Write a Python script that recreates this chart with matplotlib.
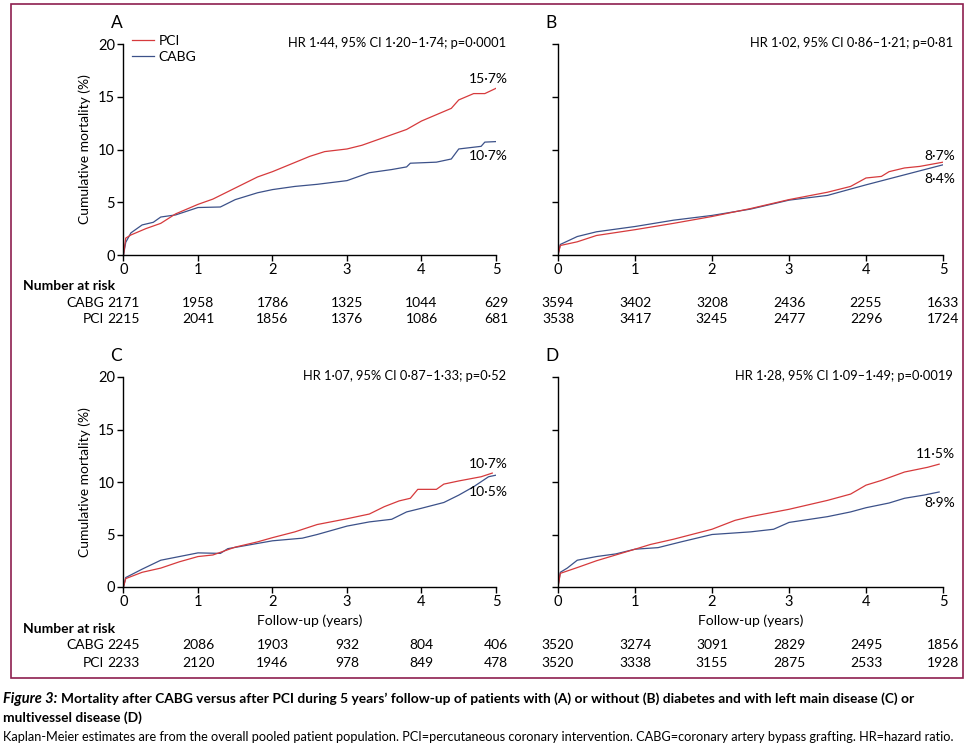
import matplotlib
matplotlib.use('Agg')
import matplotlib.pyplot as plt
from matplotlib.lines import Line2D
from matplotlib.patches import Rectangle
from matplotlib.transforms import blended_transform_factory

W, H = 977, 752
plt.rcParams['font.family'] = ['Lato', 'DejaVu Sans']

red = '#d63a3c'
blue = '#3c5189'
frame_col = '#8e1f4f'

years = [0, 1, 2, 3, 4, 5]

# ---- data (time in years, cumulative mortality %) ----
a_pci_t = [0, 0.03, 0.1, 0.3, 0.5, 0.7, 1.0, 1.2, 1.5, 1.8, 2.0, 2.5, 2.7, 3.0, 3.2, 3.5, 3.8, 4.0, 4.2, 4.4, 4.5, 4.7, 4.85, 5.0]
a_pci_y = [0, 1.6, 1.9, 2.5, 3.0, 3.9, 4.8, 5.3, 6.35, 7.4, 7.9, 9.35, 9.8, 10.05, 10.4, 11.15, 11.9, 12.7, 13.3, 13.9, 14.7, 15.3, 15.3, 15.8]
a_cabg_t = [0, 0.03, 0.1, 0.25, 0.4, 0.5, 0.7, 1.0, 1.3, 1.5, 1.8, 2.0, 2.3, 2.6, 3.0, 3.3, 3.6, 3.8, 3.85, 4.2, 4.4, 4.5, 4.8, 4.85, 5.0]
a_cabg_y = [0, 1.2, 2.1, 2.85, 3.1, 3.6, 3.8, 4.5, 4.55, 5.25, 5.9, 6.2, 6.5, 6.7, 7.05, 7.8, 8.1, 8.35, 8.7, 8.8, 9.1, 10.05, 10.3, 10.7, 10.75]

b_pci_t = [0, 0.03, 0.25, 0.5, 1.0, 1.5, 2.0, 2.5, 3.0, 3.5, 3.8, 4.0, 4.2, 4.3, 4.5, 4.7, 5.0]
b_pci_y = [0, 0.9, 1.25, 1.85, 2.4, 3.0, 3.65, 4.4, 5.25, 5.95, 6.5, 7.3, 7.45, 7.9, 8.25, 8.4, 8.8]
b_cabg_t = [0, 0.03, 0.25, 0.5, 1.0, 1.5, 2.0, 2.5, 3.0, 3.5, 4.0, 4.5, 5.0]
b_cabg_y = [0, 1.0, 1.75, 2.2, 2.7, 3.3, 3.75, 4.35, 5.2, 5.65, 6.65, 7.6, 8.55]

c_pci_t = [0, 0.03, 0.25, 0.5, 0.75, 1.0, 1.2, 1.5, 1.8, 2.0, 2.3, 2.6, 3.0, 3.3, 3.5, 3.7, 3.85, 3.95, 4.2, 4.3, 4.5, 4.8, 4.95]
c_pci_y = [0, 0.8, 1.4, 1.8, 2.4, 2.9, 3.05, 3.8, 4.3, 4.7, 5.25, 5.95, 6.5, 6.95, 7.65, 8.2, 8.45, 9.3, 9.3, 9.8, 10.1, 10.5, 10.85]
c_cabg_t = [0, 0.03, 0.25, 0.5, 0.75, 1.0, 1.3, 1.4, 1.8, 2.0, 2.4, 2.6, 3.0, 3.3, 3.6, 3.8, 4.0, 4.3, 4.5, 4.7, 4.9, 5.0]
c_cabg_y = [0, 0.9, 1.7, 2.55, 2.9, 3.25, 3.2, 3.65, 4.15, 4.4, 4.65, 5.0, 5.8, 6.2, 6.45, 7.15, 7.5, 8.05, 8.75, 9.55, 10.5, 10.65]

d_pci_t = [0, 0.03, 0.25, 0.5, 0.75, 1.0, 1.2, 1.5, 2.0, 2.3, 2.5, 3.0, 3.5, 3.8, 4.0, 4.2, 4.5, 4.8, 4.95]
d_pci_y = [0, 1.3, 1.85, 2.5, 3.05, 3.6, 4.05, 4.55, 5.5, 6.35, 6.7, 7.4, 8.25, 8.85, 9.7, 10.15, 10.95, 11.4, 11.7]
d_cabg_t = [0, 0.03, 0.12, 0.25, 0.5, 0.75, 1.0, 1.3, 1.6, 2.0, 2.5, 2.8, 3.0, 3.5, 3.8, 4.0, 4.3, 4.5, 4.75, 4.95]
d_cabg_y = [0, 1.4, 1.8, 2.55, 2.9, 3.15, 3.6, 3.75, 4.3, 5.0, 5.25, 5.5, 6.15, 6.7, 7.15, 7.55, 8.0, 8.45, 8.75, 9.05]

hr_texts = ['HR 1·44, 95% CI 1·20–1·74; p=0·0001',
            'HR 1·02, 95% CI 0·86–1·21; p=0·81',
            'HR 1·07, 95% CI 0·87–1·33; p=0·52',
            'HR 1·28, 95% CI 1·09–1·49; p=0·0019']

end_labels = [('15·7%', '10·7%'), ('8·7%', '8·4%'), ('10·7%', '10·5%'), ('11·5%', '8·9%')]

risk_cabg = [[2171, 1958, 1786, 1325, 1044, 629],
             [3594, 3402, 3208, 2436, 2255, 1633],
             [2245, 2086, 1903, 932, 804, 406],
             [3520, 3274, 3091, 2829, 2495, 1856]]
risk_pci = [[2215, 2041, 1856, 1376, 1086, 681],
            [3538, 3417, 3245, 2477, 2296, 1724],
            [2233, 2120, 1946, 978, 849, 478],
            [3520, 3338, 3155, 2875, 2533, 1928]]

curves = [(a_pci_t, a_pci_y, a_cabg_t, a_cabg_y),
          (b_pci_t, b_pci_y, b_cabg_t, b_cabg_y),
          (c_pci_t, c_pci_y, c_cabg_t, c_cabg_y),
          (d_pci_t, d_pci_y, d_cabg_t, d_cabg_y)]

cap_title = 'Mortality after CABG versus after PCI during 5 years’ follow-up of patients with (A) or without (B) diabetes and with left main disease (C) or'
cap_title2 = 'multivessel disease (D)'
cap_note = 'Kaplan-Meier estimates are from the overall pooled patient population. PCI=percutaneous coronary intervention. CABG=coronary artery bypass grafting. HR=hazard ratio.'


def fx(x):
    return x / W


def fy(y):
    return 1 - y / H


fig = plt.figure(figsize=(W / 100, H / 100), dpi=100)
renderer = fig.canvas.get_renderer()

# outer frame
fig.patches.append(Rectangle((fx(11), fy(678)), fx(963) - fx(11), fy(4) - fy(678),
                             transform=fig.transFigure, fill=False,
                             edgecolor=frame_col, linewidth=1.2))

# pixel layout of the four panels: left, right, top, bottom
boxes = [(123.5, 496, 44, 255), (558, 943, 44, 255),
         (123.5, 496, 377, 587), (558, 943, 377, 587)]
letters = ['A', 'B', 'C', 'D']
fs = 10

for i, (l, r, t, b) in enumerate(boxes):
    ax = fig.add_axes([fx(l), fy(b), fx(r) - fx(l), fy(t) - fy(b)])
    pt, py, ct, cy = curves[i]
    ax.plot(ct, cy, color=blue, lw=0.9)
    ax.plot(pt, py, color=red, lw=0.9)
    ax.set_xlim(0, 5)
    ax.set_ylim(0, 20)
    ax.set_xticks(years)
    ax.set_yticks([0, 5, 10, 15, 20])
    for s in ['top', 'right']:
        ax.spines[s].set_visible(False)
    for s in ['left', 'bottom']:
        ax.spines[s].set_linewidth(1.0)
    ax.tick_params(direction='out', length=4, width=1.0, labelsize=10.5, pad=2)
    if i % 2 == 1:
        ax.set_yticklabels([])
    else:
        ax.set_ylabel('Cumulative mortality (%)', fontsize=fs, labelpad=5)
    if i >= 2:
        ax.set_xlabel('Follow-up (years)', fontsize=fs, labelpad=4)

    fig.text(fx(l - 13), fy(t - 21), letters[i], fontsize=12.5, ha='left', va='center')
    fig.text(fx(r + 10), fy(t - 1), hr_texts[i], fontsize=9.3, ha='right', va='center')

    # end-of-curve labels
    top_lab, bot_lab = end_labels[i]
    lab_y = [(79, 156), (156, 179), (464, 492), (454, 503)][i]
    fig.text(fx(r + 12), fy(lab_y[0]), top_lab, fontsize=fs, ha='right', va='center')
    fig.text(fx(r + 12), fy(lab_y[1]), bot_lab, fontsize=fs, ha='right', va='center')

    # number at risk table
    tr = blended_transform_factory(ax.transData, fig.transFigure)
    if i < 2:
        y_head, y_c, y_p = 286, 303, 319
    else:
        y_head, y_c, y_p = 629, 645, 663
    for k, x in enumerate(years):
        ax.text(x, fy(y_c), str(risk_cabg[i][k]), transform=tr, fontsize=fs,
                ha='center', va='center', clip_on=False)
        ax.text(x, fy(y_p), str(risk_pci[i][k]), transform=tr, fontsize=fs,
                ha='center', va='center', clip_on=False)
    if i % 2 == 0:
        fig.text(fx(23), fy(y_head), 'Number at risk', fontsize=fs, fontweight='bold',
                 ha='left', va='center')
        fig.text(fx(104), fy(y_c), 'CABG', fontsize=fs, ha='right', va='center')
        fig.text(fx(104), fy(y_p), 'PCI', fontsize=fs, ha='right', va='center')

    if i == 0:
        handles = [Line2D([], [], color=red, lw=0.9), Line2D([], [], color=blue, lw=0.9)]
        fig.legend(handles, ['PCI', 'CABG'], loc='upper left',
                   bbox_to_anchor=(fx(132), fy(35)), frameon=False, fontsize=fs,
                   handlelength=1.6, handletextpad=0.3, labelspacing=0.3, borderpad=0,
                   borderaxespad=0)


def fit_text(x, y, s, width, **kw):
    # shrink a caption line so that it spans the same width as in the journal layout
    txt = fig.text(x, y, s, fontsize=11, ha='left', va='center', **kw)
    w = txt.get_window_extent(renderer).width
    txt.set_fontsize(11 * width / w)
    return txt


# caption
t1 = fig.text(fx(3), fy(699), 'Figure 3:', fontsize=10.5, fontweight='bold', fontstyle='italic',
              ha='left', va='center')
x0 = t1.get_window_extent(renderer).x1 + 4
line1 = fit_text(x0 / W, fy(699), cap_title, 914 - x0, fontweight='bold')
fig.text(fx(3), fy(718), cap_title2, fontsize=line1.get_fontsize(), fontweight='bold',
         ha='left', va='center')
fit_text(fx(3), fy(737), cap_note, 957)

fig.savefig('out.png', dpi=100)
